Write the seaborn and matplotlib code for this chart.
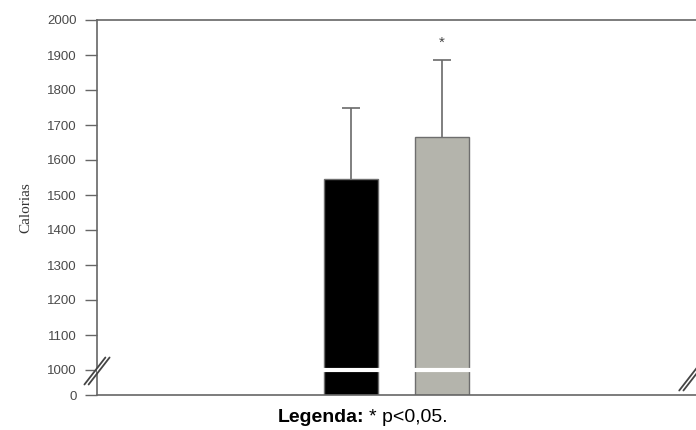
import numpy as np
import matplotlib
matplotlib.use("Agg")
import matplotlib.pyplot as plt
import seaborn as sns

groups = ["Grupo 1", "Grupo 2"]
means = [1545, 1665]
sds = [205, 220]
yticks = [0, 1000, 1100, 1200, 1300, 1400, 1500, 1600, 1700, 1800, 1900, 2000]
bar_colors = ["#000000", "#b5b5ab"]

sns.set_theme(style="white")
plt.rcParams["font.family"] = ["Liberation Sans", "DejaVu Sans"]


# broken axis: 0-1000 squeezed, 1000-2000 linear
def fwd(v):
    v = np.asarray(v, dtype=float)
    return np.where(v < 1000, v * 0.025, 25 + (v - 1000) * 0.35)


def inv(u):
    u = np.asarray(u, dtype=float)
    return np.where(u < 25, u / 0.025, 1000 + (u - 25) / 0.35)


fig = plt.figure(figsize=(6.96, 4.30), dpi=100)
ax = fig.add_axes([97 / 696, 35 / 430, 1 - 97 / 696, 375 / 430])
ax.set_yscale("function", functions=(fwd, inv))

tops = [m + s for m, s in zip(means, sds)]
ax.vlines([0, 1], means, tops, color="#6a6a6a", lw=1.2, zorder=1)
ax.hlines(tops, [-0.1, 0.9], [0.1, 1.1], color="#6a6a6a", lw=1.2, zorder=1)
sns.barplot(x=groups, y=means, hue=groups, palette=bar_colors, width=0.6,
            edgecolor="#6e6e6e", linewidth=1, legend=False, ax=ax, zorder=2)
ax.text(1, tops[1] + 30, "*", ha="center", va="bottom", fontsize=11, color="#444")

# white gap across bars at the break
ax.axhline(990, color="white", lw=3, zorder=3)

ax.set_ylim(0, 2000)
ax.set_xlim(-2.8, 3.8)
ax.set_yticks(yticks)
ax.set_yticklabels([str(t) for t in yticks], fontsize=9.5, color="#4a4a4a")
ax.yaxis.set_minor_locator(matplotlib.ticker.NullLocator())
ax.set_xticks([])
ax.set_xlabel("")
ax.set_ylabel("Calorias", family=["Liberation Serif"], fontsize=11, color="#333333", labelpad=11)
ax.tick_params(axis="y", direction="out", length=8.5, width=1, color="#666666", left=True, pad=6)

for s in ["left", "top", "bottom"]:
    ax.spines[s].set_color("#666666")
    ax.spines[s].set_linewidth(1.2)
ax.spines["right"].set_visible(False)

# break marks
hx, hy = 0.0175, 0.036
for xc, yc in [(0.0, 0.064), (0.993, 0.048)]:
    for off in [-0.0035, 0.0035]:
        ax.plot([xc + off - hx, xc + off + hx], [yc - hy, yc + hy],
                transform=ax.transAxes, color="#444444", lw=1.3, clip_on=False, zorder=4)

fig.text(364 / 696, 1 - 417 / 430, "Legenda:", ha="right", va="center",
         fontsize=14, fontweight="bold", color="black")
fig.text(369 / 696, 1 - 417 / 430, "* p<0,05.", ha="left", va="center",
         fontsize=14, color="black")

fig.savefig("out.png", dpi=100, facecolor="white")
